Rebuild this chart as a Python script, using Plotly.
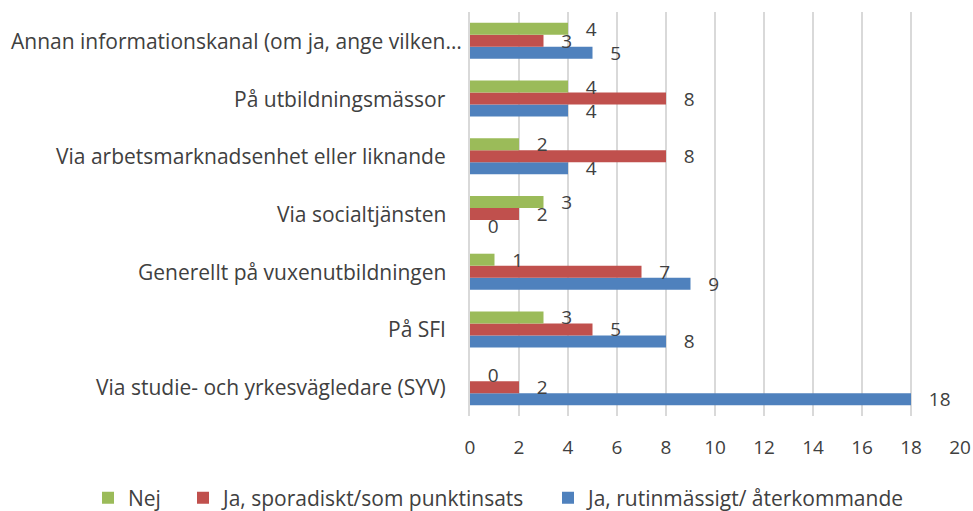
import plotly.graph_objects as go

categories = [
    "Via studie- och yrkesvägledare (SYV)",
    "På SFI",
    "Generellt på vuxenutbildningen",
    "Via socialtjänsten",
    "Via arbetsmarknadsenhet eller liknande",
    "På utbildningsmässor",
    "Annan informationskanal (om ja, ange vilken…",
]
nej = [0, 3, 1, 3, 2, 4, 4]
ja_sporadiskt = [2, 5, 7, 2, 8, 8, 3]
ja_rutin = [18, 8, 9, 0, 4, 4, 5]
x_ticks = [0, 2, 4, 6, 8, 10, 12, 14, 16, 18, 20]

FONT = "Open Sans"
TXT = "#404040"

# (name, values, colour, legend id)
series = [
    ("Ja, rutinmässigt/ återkommande", ja_rutin, "#4F81BD", "legend3"),
    ("Ja, sporadiskt/som punktinsats", ja_sporadiskt, "#C0504D", "legend2"),
    ("Nej", nej, "#9BBB59", "legend"),
]

fig = go.Figure()
for name, vals, color, lg in series:
    fig.add_trace(go.Bar(
        y=categories, x=vals, name=name, orientation="h",
        marker=dict(color=color, line=dict(width=0)),
        text=vals, texttemplate="   %{x}", textposition="outside",
        constraintext="none", cliponaxis=False,
        textfont=dict(family=FONT, size=19, color=TXT),
        legend=lg,
    ))

W, H = 973, 511
L, R, T, B = 470, 13, 12, 95
pw = W - L - R

# category labels as axis-anchored text (the long, truncated one sits closer to the axis)
for c in categories:
    right_px = 463 if c.endswith("…") else 447
    fig.add_annotation(x=(right_px - L) / pw, xref="paper", xanchor="right",
                       y=c, yref="y", text=c, showarrow=False,
                       font=dict(family=FONT, size=21, color=TXT), borderpad=0)


def leg(left_px):
    return dict(orientation="h", xref="paper", x=(left_px - L) / pw,
                xanchor="left", yref="container", y=1 - 498 / H,
                yanchor="middle", font=dict(family=FONT, size=21, color=TXT),
                itemwidth=30, bgcolor="rgba(0,0,0,0)")


fig.update_layout(
    width=W, height=H,
    margin=dict(l=L, r=R, t=T, b=B, autoexpand=False),
    barmode="group", bargap=0.376, bargroupgap=0,
    plot_bgcolor="white", paper_bgcolor="white",
    font=dict(family=FONT, size=19, color=TXT),
    xaxis=dict(range=[0, 20], tickvals=x_ticks, showgrid=True,
               gridcolor="#D9D9D9", gridwidth=1.5, zeroline=False,
               showline=False, ticks="", tickfont=dict(size=19, color=TXT),
               ticklabelstandoff=18),
    yaxis=dict(showline=True, linecolor="#D9D9D9", linewidth=1.5,
               ticks="", showticklabels=False, showgrid=False,
               categoryorder="array", categoryarray=categories),
    showlegend=True,
    legend=leg(88),
    legend2=leg(183),
    legend3=leg(548),
)

fig.write_html("out.html", config={"displayModeBar": False},
               post_script="document.body.style.margin='0px';")
